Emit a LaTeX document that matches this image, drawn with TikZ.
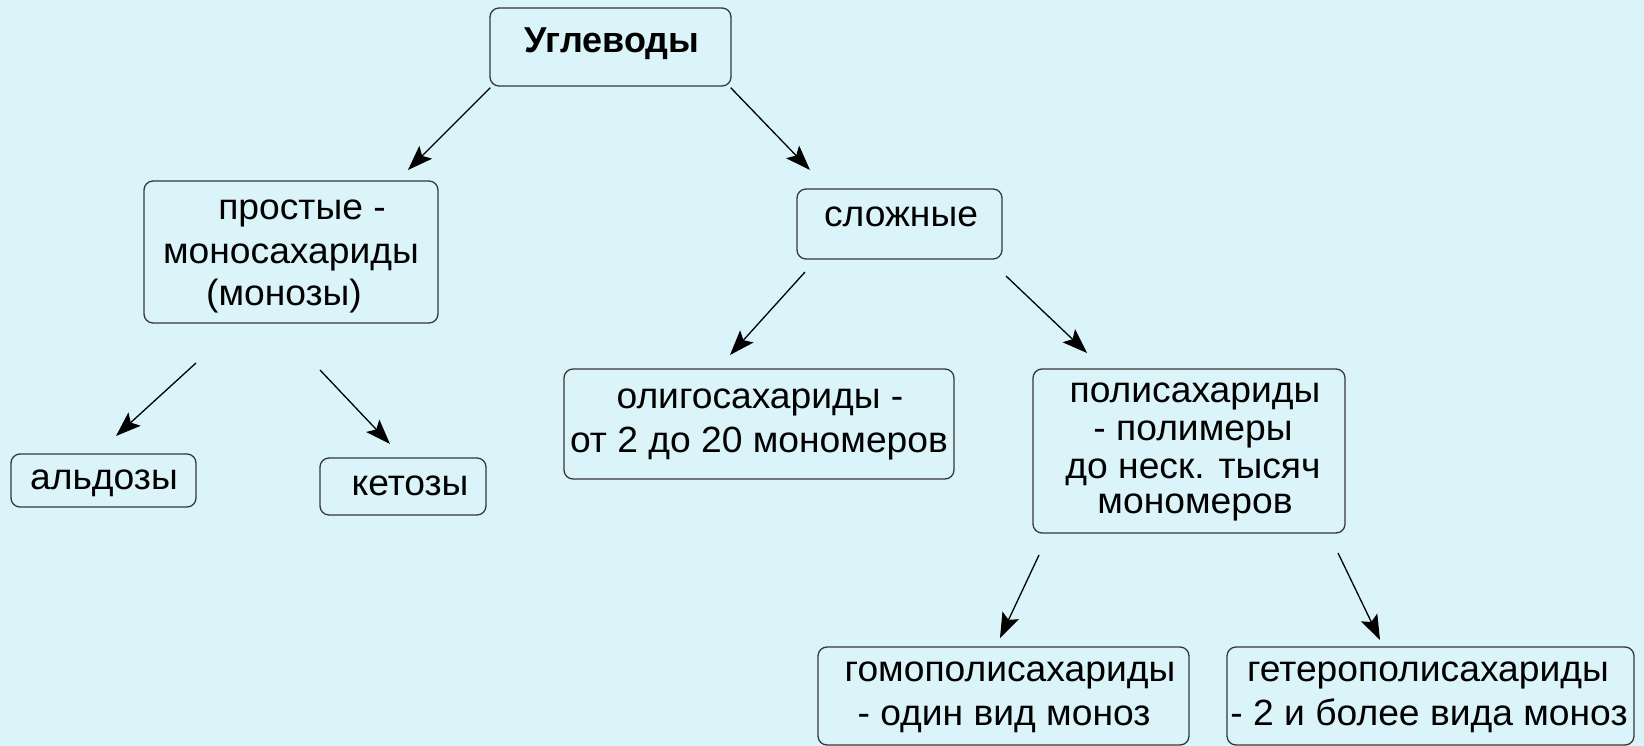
\documentclass[tikz,border=0pt]{standalone}
\usepackage{fontspec}
\setmainfont{Liberation Sans}[FakeStretch=1.02]
\newfontfamily\tfont{Liberation Sans}
\usetikzlibrary{arrows.meta}
\definecolor{bg}{RGB}{219,244,249}
\definecolor{edge}{RGB}{55,55,55}
\begin{document}
\begin{tikzpicture}[x=1pt,y=-1pt,
  box/.style={draw=edge, line width=1.3pt, rounded corners=9pt, fill=bg, inner sep=0pt},
  txt/.style={anchor=base, inner sep=0pt, font=\fontsize{36.5}{40}\selectfont},
  ttl/.style={anchor=base, inner sep=0pt, font=\tfont\bfseries\fontsize{36}{40}\selectfont},
  arr/.style={line width=1.3pt, -{Stealth[length=25pt,width=18pt,inset=5pt]}}]
\fill[bg] (0,0) rectangle (1644,746);
\useasboundingbox (0,0) rectangle (1644,746);
% boxes
\node[box, minimum width=241pt, minimum height=78pt]  (u)  at (610.5,47) {};
\node[box, minimum width=294pt, minimum height=142pt] (pr) at (291,252) {};
\node[box, minimum width=205pt, minimum height=70pt]  (sl) at (899.5,224) {};
\node[box, minimum width=185pt, minimum height=53pt]  (al) at (103.5,480.5) {};
\node[box, minimum width=166pt, minimum height=57pt]  (ke) at (403,486.5) {};
\node[box, minimum width=390pt, minimum height=110pt] (ol) at (759,424) {};
\node[box, minimum width=312pt, minimum height=164pt] (po) at (1189,451) {};
\node[box, minimum width=371pt, minimum height=98pt]  (go) at (1003.5,696) {};
\node[box, minimum width=407pt, minimum height=98pt]  (ge) at (1430.5,696) {};
% texts
\node[ttl] (tu) at (612,53) {Углеводы};
\node[txt] (tpr1) at (302,220) {простые -};
\node[txt] (tpr2) at (291,263) {моносахариды};
\node[txt] (tpr3) at (284,305) {(монозы)};
\node[txt] (tsl) at (901,227) {сложные};
\node[txt] (tal) at (104,489) {альдозы};
\node[txt] (tke) at (410,495) {кетозы};
\node[txt] (tol1) at (760,408) {олигосахариды -};
\node[txt] (tol2) at (759,452) {от 2 до 20 мономеров};
\node[txt] (tpo1) at (1195,402) {полисахариды};
\node[txt] (tpo2) at (1193,440) {- полимеры};
\node[txt] (tpo3) at (1193,478) {до неск. тысяч};
\node[txt] (tpo4) at (1195,513) {мономеров};
\node[txt] (tgo1) at (1010,681) {гомополисахариды};
\node[txt] (tgo2) at (1004,725) {- один вид моноз};
\node[txt] (tge1) at (1428,681) {гетерополисахариды};
\node[txt] (tge2) at (1429,725) {- 2 и более вида моноз};
% connector ends
\coordinate (c1e) at (408,170);
\coordinate (c2e) at (810,170);
\coordinate (c3s) at (196,363);
\coordinate (c3e) at (116,436);
\coordinate (c4s) at (320,370);
\coordinate (c4e) at (390,444);
\coordinate (c5s) at (805,272);
\coordinate (c5e) at (730,355);
\coordinate (c6s) at (1006,276);
\coordinate (c6e) at (1087,353);
\coordinate (c7s) at (1039,555);
\coordinate (c7e) at (1000,638);
\coordinate (c8s) at (1338,553);
\coordinate (c8e) at (1380,640);
% connectors
\draw[arr] ([shift={(1,1)}]u.south west) -- (c1e);
\draw[arr] ([shift={(-1,1)}]u.south east) -- (c2e);
\draw[arr] (c3s) -- (c3e);
\draw[arr] (c4s) -- (c4e);
\draw[arr] (c5s) -- (c5e);
\draw[arr] (c6s) -- (c6e);
\draw[arr] (c7s) -- (c7e);
\draw[arr] (c8s) -- (c8e);
\end{tikzpicture}
\end{document}
